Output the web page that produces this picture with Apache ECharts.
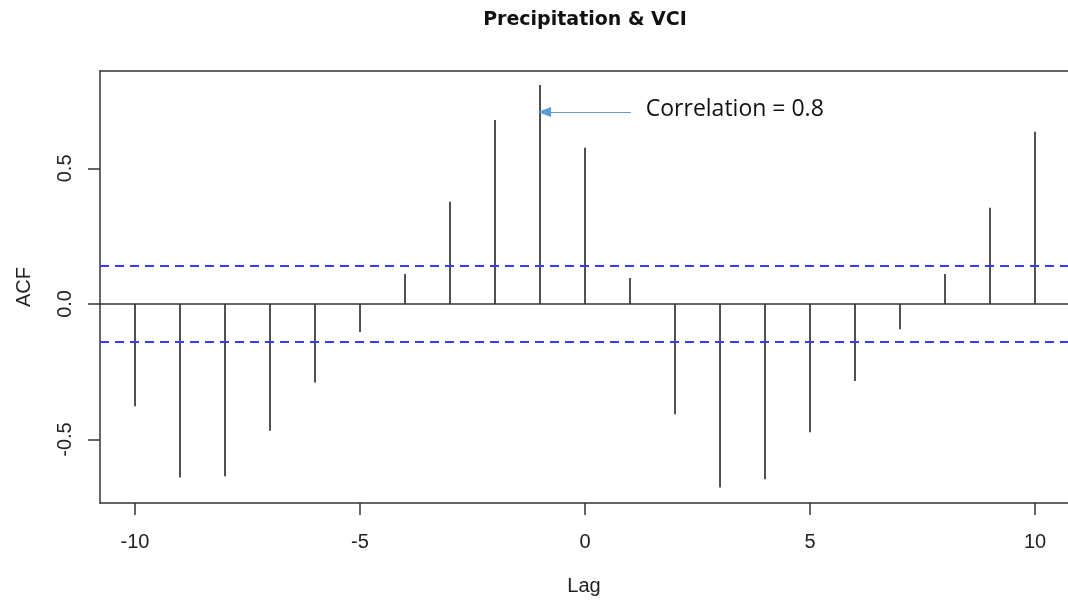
<!DOCTYPE html>
<html>
<head>
<meta charset="utf-8">
<script src="https://cdn.jsdelivr.net/npm/echarts@6/dist/echarts.min.js"></script>
<style>html,body{margin:0;padding:0;background:#fff;}#chart{width:1068px;height:601px;}</style>
</head>
<body>
<div id="chart"></div>
<script>
const lags = [-10,-9,-8,-7,-6,-5,-4,-3,-2,-1,0,1,2,3,4,5,6,7,8,9,10];
const acfValues = [-0.377,-0.640,-0.635,-0.468,-0.290,-0.103,0.110,0.377,0.678,0.807,0.576,0.096,-0.407,-0.677,-0.646,-0.473,-0.284,-0.093,0.110,0.355,0.635];
const ciBound = 0.137;
const xTicks = [-10,-5,0,5,10];
const yTicks = [-0.5,0,0.5];
const xRange = [-10.778, 10.733];
const yRange = [-0.734, 0.859];
const titleText = 'Precipitation & VCI';
const annotationText = 'Correlation = 0.8';
const arrowFrom = [1.02, 0.708];
const arrowTo = [-0.9, 0.708];

const chart = echarts.init(document.getElementById('chart'));
const axisFont = {fontFamily:'Liberation Sans', fontSize:20, color:'#222'};
const boxLine = {show:true,onZero:false,lineStyle:{color:'#333',width:1.5}};
chart.setOption({
  animation:false,
  title:{text:titleText,left:580,top:6,textAlign:'center',textStyle:{fontFamily:'DejaVu Sans',fontWeight:'bold',fontSize:19,color:'#111'}},
  grid:{left:100,top:71,right:0,bottom:98},
  xAxis:[{type:'value',min:xRange[0],max:xRange[1],position:'bottom',
    name:'Lag',nameLocation:'middle',nameGap:73,nameTextStyle:axisFont,
    axisLine:boxLine,splitLine:{show:false},
    axisTick:{show:true,length:12,customValues:xTicks,lineStyle:{color:'#333',width:1.5}},
    axisLabel:Object.assign({margin:29,customValues:xTicks,formatter:v=>String(v)},axisFont)},
   {type:'value',min:xRange[0],max:xRange[1],position:'top',
    axisLine:boxLine,splitLine:{show:false},axisTick:{show:false},axisLabel:{show:false}}],
  yAxis:{type:'value',min:yRange[0],max:yRange[1],position:'left',
    name:'ACF',nameLocation:'middle',nameGap:66,nameRotate:90,nameTextStyle:axisFont,
    axisLine:boxLine,splitLine:{show:false},
    axisTick:{show:true,length:12,customValues:yTicks,lineStyle:{color:'#333',width:1.5}},
    axisLabel:Object.assign({margin:25,rotate:90,customValues:yTicks,formatter:v=>v.toFixed(1)},axisFont)},
  series:[
    {type:'custom',coordinateSystem:'cartesian2d',xAxisIndex:0,yAxisIndex:0,
      data:lags.map((l,i)=>[l,acfValues[i]]),
      renderItem:function(params,api){
        const p0=api.coord([api.value(0),0]);
        const p1=api.coord([api.value(0),api.value(1)]);
        return {type:'line',shape:{x1:p0[0],y1:p0[1],x2:p1[0],y2:p1[1]},style:{stroke:'#333',lineWidth:1.7}};
      },
      markLine:{silent:true,symbol:['none','none'],label:{show:false},
        data:[
          {yAxis:0,lineStyle:{type:'solid',color:'#333',width:1.5}},
          {yAxis:ciBound,lineStyle:{type:[9,6],color:'#3a3aff',width:1.8}},
          {yAxis:-ciBound,lineStyle:{type:[9,6],color:'#3a3aff',width:1.8}},
          [{coord:arrowFrom,symbol:'none'},{coord:arrowTo,symbol:'triangle',symbolSize:[10,13],lineStyle:{color:'#5b9bd5',width:1.2,type:'solid'}}]
        ]},
      markPoint:{silent:true,symbol:'circle',symbolSize:0,
        data:[{coord:[1.35,0.708],label:{show:true,position:'right',distance:0,offset:[0,-2],formatter:annotationText,fontFamily:'Open Sans',fontSize:23,color:'#111'}}]}
    }
  ]
});
</script>
</body>
</html>
